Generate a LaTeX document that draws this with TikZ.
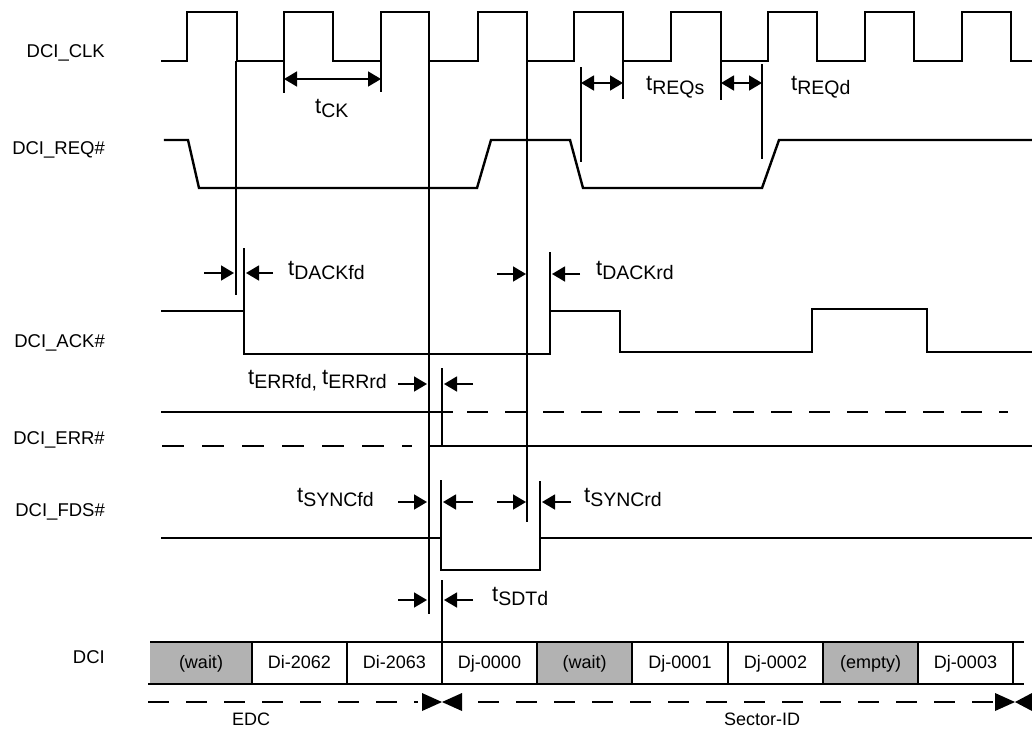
\documentclass[tikz,border=0pt]{standalone}
\usepackage{fontspec}
\setmainfont{Liberation Sans}
\usetikzlibrary{arrows.meta}
\newcommand{\tlab}[1]{{\fontsize{22}{24}\selectfont t}\raisebox{-4pt}{\fontsize{19.5}{21}\selectfont #1}}
\definecolor{cellgray}{HTML}{B2B2B2}
\begin{document}
\begin{tikzpicture}[x=1pt,y=-1pt,
  sig/.style={line width=2.4pt, line join=miter, line cap=rect},
  mk/.style={line width=1.4pt},
  dim/.style={line width=1.6pt, -{Triangle[length=13pt,width=15pt]}},
  ddim/.style={line width=1.6pt, {Triangle[length=13pt,width=15pt]}-{Triangle[length=13pt,width=15pt]}},
  dsh/.style={line width=2.4pt, dash pattern=on 21pt off 17pt},
  lbl/.style={anchor=base east, font=\fontsize{18.5}{20}\selectfont, inner sep=0pt},
  tl/.style={anchor=base west, inner sep=0pt},
  celltxt/.style={anchor=base, font=\fontsize{18}{20}\selectfont, inner sep=0pt},
  bigtip/.style={fill=black}]
\useasboundingbox (0,0) rectangle (1032,729);

% signal names
\node[lbl] (nclk) at (105,57) {DCI\_CLK};
\node[lbl] (nreq) at (105,154) {DCI\_REQ\#};
\node[lbl] (nack) at (105,347) {DCI\_ACK\#};
\node[lbl] (nerr) at (105,444) {DCI\_ERR\#};
\node[lbl] (nfds) at (105,516) {DCI\_FDS\#};
\node[lbl] (ndci) at (105,663) {DCI};

% clock
\draw[sig] (162,61) -| (187,12) -| (237,61) -| (284,12) -| (333,61) -| (381,12) -| (429,61)
  -| (478,12) -| (527,61) -| (574,12) -| (623,61) -| (671,12) -| (721,61) -| (768,12)
  -| (817,61) -| (865,12) -| (914,61) -| (962,12) -| (1011,61) -- (1032,61);

% REQ
\draw[sig] (165,140) -- (188,140) -- (199,188) -- (477,188) -- (491,140) -- (570,140)
  -- (583,188) -- (762,188) -- (779,140) -- (1032,140);

% ACK
\draw[sig] (162,311) -- (244,311) -- (244,354) -- (550,354) -- (550,311) -- (620,311)
  -- (620,352) -- (812,352) -- (812,309) -- (927,309) -- (927,352) -- (1032,352);

% ERR
\draw[sig] (162,412) -- (452,412);
\draw[dsh] (467,412) -- (1008,412);
\draw[dsh, dash pattern=on 22pt off 18pt] (162,446) -- (412,446);
\draw[sig] (429,446) -- (442,446) -- (442,412);
\draw[sig] (442,446) -- (1032,446);

% FDS
\draw[sig] (162,538) -- (441,538) -- (441,570) -- (540,570) -- (540,538) -- (1032,538);

% marker lines
\coordinate (m1t) at (236,61);  \coordinate (m1b) at (236,295);
\draw[mk] (m1t) -- (m1b);
\draw[mk] (244,248) -- (244,311);
\draw[mk] (284,61) -- (284,93);
\draw[mk] (381,61) -- (381,92);
\draw[mk] (429,61) -- (429,614);
\draw[mk] (527,61) -- (527,522);
\draw[mk] (550,252) -- (550,311);
\draw[mk] (581,67) -- (581,162);
\draw[mk] (623,61) -- (623,99);
\draw[mk] (721,61) -- (721,100);
\draw[mk] (762,64) -- (762,159);
\draw[mk] (442,368) -- (442,412);
\draw[mk] (441,480) -- (441,538);
\draw[mk] (540,481) -- (540,538);
\draw[mk] (442,580) -- (442,642);

% dimension arrows
\coordinate (ck1) at (284,79); \coordinate (ck2) at (381,79);
\draw[ddim] (ck1) -- (ck2);
\coordinate (rq1) at (581,83); \coordinate (rq2) at (623,83);
\draw[ddim] (rq1) -- (rq2);
\coordinate (rq3) at (721,83); \coordinate (rq4) at (762,83);
\draw[ddim] (rq3) -- (rq4);

\draw[dim] (204,273) -- (234,273);
\draw[dim] (273,273) -- (246,273);
\draw[dim] (497,274) -- (526,274);
\draw[dim] (580,274) -- (552,274);

\draw[dim] (398,384) -- (427,384);
\draw[dim] (473,384) -- (444,384);

\draw[dim] (398,502) -- (427,502);
\draw[dim] (473,502) -- (443,502);
\draw[dim] (497,502) -- (526,502);
\draw[dim] (571,502) -- (542,502);

\draw[dim] (398,600) -- (427,600);
\draw[dim] (473,600) -- (444,600);

% timing labels
\node[tl] (tck) at (315,113) {\tlab{CK}};
\node[tl] (treqs) at (646,90) {\tlab{REQs}};
\node[tl] (treqd) at (791,90) {\tlab{REQd}};
\node[tl] (tdackf) at (288,275) {\tlab{DACKfd}};
\node[tl] (tdackr) at (596,275) {\tlab{DACKrd}};
\node[tl] (terr) at (248,384) {\tlab{ERRfd,}\hspace{5pt}\tlab{ERRrd}};
\node[tl] (tsyncf) at (297,502) {\tlab{SYNCfd}};
\node[tl] (tsyncr) at (584,502) {\tlab{SYNCrd}};
\node[tl] (tsdt) at (492,601) {\tlab{SDTd}};

% DCI bus
\fill[cellgray] (150,642) rectangle (252,684);
\fill[cellgray] (537,642) rectangle (632,684);
\fill[cellgray] (823,642) rectangle (918,684);
\draw[line width=2.2pt] (150,642) -- (1024,642);
\draw[line width=2.2pt] (148,684) -- (1024,684);
\foreach \x in {252,347,442,537,632,728,823,918,1013}
  \draw[line width=2.2pt] (\x,642) -- (\x,684);
\node[celltxt] (c1) at (201,668) {(wait)};
\node[celltxt] (c2) at (299.5,668) {Di-2062};
\node[celltxt] (c3) at (394.5,668) {Di-2063};
\node[celltxt] (c4) at (489.5,668) {Dj-0000};
\node[celltxt] (c5) at (584.5,668) {(wait)};
\node[celltxt] (c6) at (680,668) {Dj-0001};
\node[celltxt] (c7) at (775.5,668) {Dj-0002};
\node[celltxt] (c8) at (870.5,668) {(empty)};
\node[celltxt] (c9) at (965.5,668) {Dj-0003};

% phase arrows
\draw[dsh] (148,702) -- (418,702);
\fill[bigtip] (422,693) -- (442,702) -- (422,711) -- cycle;
\fill[bigtip] (462,693) -- (442,702) -- (462,711) -- cycle;
\draw[dsh] (478,702) -- (996,702);
\fill[bigtip] (995,693) -- (1015,702) -- (995,711) -- cycle;
\fill[bigtip] (1032,693) -- (1015,702) -- (1032,711) -- cycle;
\node[celltxt] (edc) at (251,725) {EDC};
\node[celltxt] (sid) at (762,725) {Sector-ID};
\end{tikzpicture}
\end{document}
